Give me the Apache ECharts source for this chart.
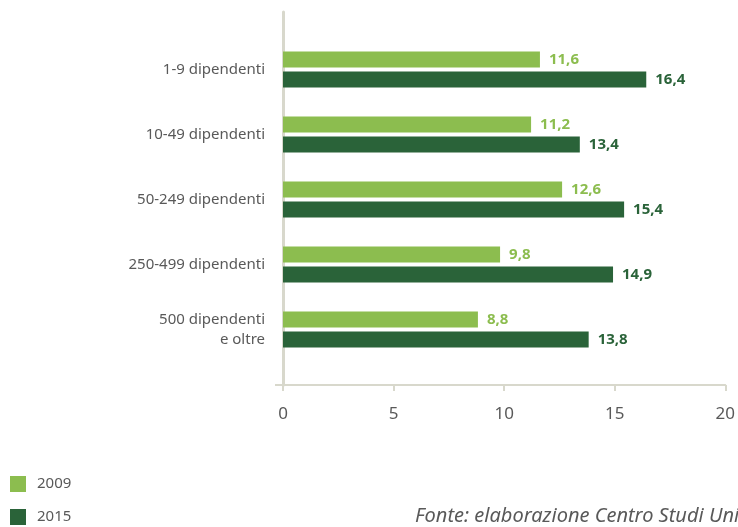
<!DOCTYPE html>
<html><head><meta charset="utf-8">
<script src="https://cdn.jsdelivr.net/npm/echarts@6/dist/echarts.min.js"></script>
<style>html,body{margin:0;padding:0;background:#fff}#c{width:738px;height:527px}</style>
</head><body><div id="c"></div>
<script>
const categories = ['1-9 dipendenti', '10-49 dipendenti', '50-249 dipendenti', '250-499 dipendenti', '500 dipendenti\ne oltre'];
const seriesNames = ['2009', '2015'];
const values2009 = [11.6, 11.2, 12.6, 9.8, 8.8];
const values2015 = [16.4, 13.4, 15.4, 14.9, 13.8];
const xTicks = [0, 5, 10, 15, 20];
const sourceText = 'Fonte: elaborazione Centro Studi Unioncamere';

const light = '#8cbd4f', dark = '#2a6339', axisCol = '#d8d8cc', txt = '#595959';
const FONT = 'Noto Sans';
const fmt = p => String(p.value).replace('.', ',');

const chart = echarts.init(document.getElementById('c'));
chart.setOption({
  animation: false,
  textStyle: { fontFamily: FONT },
  grid: [
    { left: 283, right: 12, top: 37, height: 325 },
    { left: 283, right: 12, top: 12, height: 373 }
  ],
  xAxis: [
    { gridIndex: 0, type: 'value', min: xTicks[0], max: xTicks[xTicks.length-1], interval: 5,
      show: false },
    { gridIndex: 1, type: 'value', min: xTicks[0], max: xTicks[xTicks.length-1], interval: 5,
      axisLine: { show: true, lineStyle: { color: axisCol, width: 2 } },
      axisTick: { show: true, length: 6, lineStyle: { color: axisCol, width: 2 } },
      splitLine: { show: false },
      axisLabel: { color: txt, fontSize: 17, margin: 21, fontFamily: FONT } }
  ],
  yAxis: [
    { gridIndex: 0, type: 'category', data: categories, inverse: true,
      axisLine: { show: false }, axisTick: { show: false },
      axisLabel: { color: txt, fontSize: 15, margin: 18, lineHeight: 20, align: 'right', fontFamily: FONT } },
    { gridIndex: 1, type: 'value', min: 0, max: 1,
      axisLine: { show: true, lineStyle: { color: axisCol, width: 3 } },
      axisTick: { show: false }, axisLabel: { show: false }, splitLine: { show: false } }
  ],
  legend: {
    orient: 'vertical', left: 10, top: 476, height: 60, padding: 0,
    itemWidth: 16, itemHeight: 16, itemGap: 17,
    icon: 'rect', data: seriesNames,
    textStyle: { color: txt, fontSize: 15, padding: [0, 0, 0, 6], fontFamily: FONT }
  },
  series: [
    { name: seriesNames[0], type: 'bar', xAxisIndex: 0, yAxisIndex: 0, data: values2009,
      barWidth: 16, barGap: '25%', itemStyle: { color: light },
      label: { show: true, position: 'right', distance: 9, color: light, fontWeight: 'bold', fontSize: 15, formatter: fmt, fontFamily: FONT } },
    { name: seriesNames[1], type: 'bar', xAxisIndex: 0, yAxisIndex: 0, data: values2015,
      barWidth: 16, barGap: '25%', itemStyle: { color: dark },
      label: { show: true, position: 'right', distance: 9, color: dark, fontWeight: 'bold', fontSize: 15, formatter: fmt, fontFamily: FONT } }
  ],
  graphic: [
    { type: 'line', shape: { x1: 275, y1: 385, x2: 284, y2: 385 }, style: { stroke: axisCol, lineWidth: 2 } },
    { type: 'text', left: 415, top: 506, style: { text: sourceText, fill: txt, font: 'italic 20px "Noto Sans"' } }
  ]
});
</script></body></html>
